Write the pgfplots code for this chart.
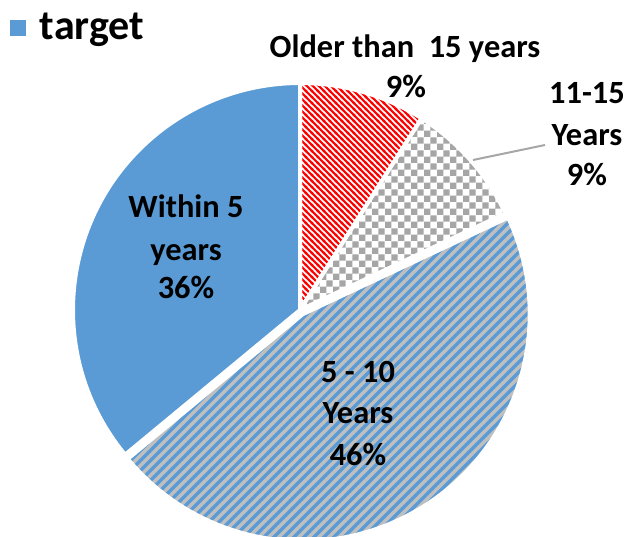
\documentclass[border=0pt]{standalone}
\usepackage{pgfplots}
\pgfplotsset{compat=1.18}
\usepackage{pgfplotstable}
\usepackage{fontspec}
\setmainfont{Carlito}
\usetikzlibrary{patterns}
\definecolor{pieblue}{HTML}{5B9BD5}
\definecolor{stripegray}{HTML}{BFBFBF}
\definecolor{checkgray}{HTML}{A6A6A6}
\definecolor{leadergray}{HTML}{A6A6A6}
% checkerboard
\pgfdeclarepatternformonly{mycheck}{\pgfqpoint{0pt}{0pt}}{\pgfqpoint{6.4pt}{6.4pt}}{\pgfqpoint{6.4pt}{6.4pt}}{%
 \pgfpathrectangle{\pgfpointorigin}{\pgfqpoint{3.2pt}{3.2pt}}%
 \pgfpathrectangle{\pgfqpoint{3.2pt}{3.2pt}}{\pgfqpoint{3.2pt}{3.2pt}}%
 \pgfusepath{fill}}
% "/" stripes, period 5.2pt, half band 1.2pt
\pgfdeclarepatternformonly{myslash}{\pgfqpoint{0pt}{0pt}}{\pgfqpoint{5.2pt}{5.2pt}}{\pgfqpoint{5.2pt}{5.2pt}}{%
 \pgfpathmoveto{\pgfqpoint{0pt}{0pt}}%
 \pgfpathlineto{\pgfqpoint{1.2pt}{0pt}}%
 \pgfpathlineto{\pgfqpoint{5.2pt}{4pt}}%
 \pgfpathlineto{\pgfqpoint{5.2pt}{5.2pt}}%
 \pgfpathlineto{\pgfqpoint{4pt}{5.2pt}}%
 \pgfpathlineto{\pgfqpoint{0pt}{1.2pt}}%
 \pgfpathclose
 \pgfpathmoveto{\pgfqpoint{0pt}{4pt}}%
 \pgfpathlineto{\pgfqpoint{0pt}{5.2pt}}%
 \pgfpathlineto{\pgfqpoint{1.2pt}{5.2pt}}%
 \pgfpathclose
 \pgfpathmoveto{\pgfqpoint{4pt}{0pt}}%
 \pgfpathlineto{\pgfqpoint{5.2pt}{0pt}}%
 \pgfpathlineto{\pgfqpoint{5.2pt}{1.2pt}}%
 \pgfpathclose
 \pgfusepath{fill}}
% "\" stripes, period 3.2pt, half band 0.85pt
\pgfdeclarepatternformonly{mybackslash}{\pgfqpoint{0pt}{0pt}}{\pgfqpoint{3.2pt}{3.2pt}}{\pgfqpoint{3.2pt}{3.2pt}}{%
 \pgfpathmoveto{\pgfqpoint{0pt}{3.2pt}}%
 \pgfpathlineto{\pgfqpoint{0pt}{2.35pt}}%
 \pgfpathlineto{\pgfqpoint{2.35pt}{0pt}}%
 \pgfpathlineto{\pgfqpoint{3.2pt}{0pt}}%
 \pgfpathlineto{\pgfqpoint{3.2pt}{0.85pt}}%
 \pgfpathlineto{\pgfqpoint{0.85pt}{3.2pt}}%
 \pgfpathclose
 \pgfpathmoveto{\pgfqpoint{0pt}{0pt}}%
 \pgfpathlineto{\pgfqpoint{0.85pt}{0pt}}%
 \pgfpathlineto{\pgfqpoint{0pt}{0.85pt}}%
 \pgfpathclose
 \pgfpathmoveto{\pgfqpoint{3.2pt}{3.2pt}}%
 \pgfpathlineto{\pgfqpoint{2.35pt}{3.2pt}}%
 \pgfpathlineto{\pgfqpoint{3.2pt}{2.35pt}}%
 \pgfpathclose
 \pgfusepath{fill}}
\pgfplotstableread{
label value
older 9
elevenfifteen 9
fiveten 46
within 36
}\piedata
\newcommand\lab{\fontsize{16.2}{20.5}\selectfont\bfseries}
\begin{document}
\begin{tikzpicture}
\pgfplotstablegetelem{0}{value}\of\piedata \let\vA\pgfplotsretval
\pgfplotstablegetelem{1}{value}\of\piedata \let\vB\pgfplotsretval
\pgfplotstablegetelem{2}{value}\of\piedata \let\vC\pgfplotsretval
\pgfplotstablegetelem{3}{value}\of\piedata \let\vD\pgfplotsretval
\pgfmathsetmacro\aA{90}
\pgfmathsetmacro\aB{\aA-3.6*\vA}
\pgfmathsetmacro\aC{\aB-3.6*\vB}
\pgfmathsetmacro\aD{\aC-3.6*\vC}
\pgfmathsetmacro\aE{\aD-3.6*\vD}
\pgfmathsetmacro\mC{(\aC+\aD)/2}
\def\R{113.5pt}
\begin{axis}[hide axis, x=0.5pt, y=0.5pt, y dir=reverse,
  xmin=0, xmax=631, ymin=0, ymax=536, clip=false,
  legend style={at={(axis cs:10,28)}, anchor=west, draw=none, fill=none,
    font=\fontsize{21}{24}\selectfont\bfseries, inner sep=0pt,
    nodes={inner xsep=3.5pt}},
  legend image code/.code={\fill[#1] (0pt,-3.6pt) rectangle (7.4pt,3.6pt);}]
\coordinate (BL) at (axis cs:0,536);
\coordinate (TR) at (axis cs:631,0);
\addlegendimage{pieblue}
\addlegendentry{\hspace{3.5pt}target}
% Older than 15 years
\filldraw[draw=white, line width=2pt, preaction={fill=white},
  pattern=mybackslash, pattern color=red]
  (axis cs:300,310) -- ++(\aA:\R) arc[start angle=\aA, end angle=\aB, radius=\R] -- cycle;
% 11-15 years
\filldraw[draw=white, line width=2pt, preaction={fill=white},
  pattern=mycheck, pattern color=checkgray]
  (axis cs:300,310) -- ++(\aB:\R) arc[start angle=\aB, end angle=\aC, radius=\R] -- cycle;
% 5-10 years (exploded)
\filldraw[draw=white, line width=2pt, preaction={fill=stripegray},
  pattern=myslash, pattern color=pieblue]
  (axis cs:300,310) ++(\mC:2.5pt) -- ++(\aC:\R) arc[start angle=\aC, end angle=\aD, radius=\R] -- cycle;
% Within 5 years
\filldraw[draw=white, line width=2pt, fill=pieblue]
  (axis cs:300,310) -- ++(\aD:\R) arc[start angle=\aD, end angle=\aE, radius=\R] -- cycle;
% leader line
\draw[leadergray, line width=1pt] (axis cs:473,160) -- (axis cs:545,145);
% labels
\node[anchor=base, font=\lab, inner sep=0pt] at (axis cs:405,57) {Older than\ \ 15 years};
\node[anchor=base, font=\lab, inner sep=0pt] at (axis cs:406,97) {9\%};
\node[anchor=base, font=\lab, inner sep=0pt] at (axis cs:587,103) {11-15};
\node[anchor=base, font=\lab, inner sep=0pt] at (axis cs:587,145) {Years};
\node[anchor=base, font=\lab, inner sep=0pt] at (axis cs:587,185) {9\%};
\node[anchor=base, font=\lab, inner sep=0pt] at (axis cs:186,217) {Within 5};
\node[anchor=base, font=\lab, inner sep=0pt] at (axis cs:186,260) {years};
\node[anchor=base, font=\lab, inner sep=0pt] at (axis cs:186,298) {36\%};
\node[anchor=base, font=\lab, inner sep=0pt] at (axis cs:358,382) {5 - 10};
\node[anchor=base, font=\lab, inner sep=0pt] at (axis cs:358,423) {Years};
\node[anchor=base, font=\lab, inner sep=0pt] at (axis cs:358,465) {46\%};
\end{axis}
\pgfresetboundingbox
\path (BL) rectangle (TR);
\end{tikzpicture}
\end{document}
